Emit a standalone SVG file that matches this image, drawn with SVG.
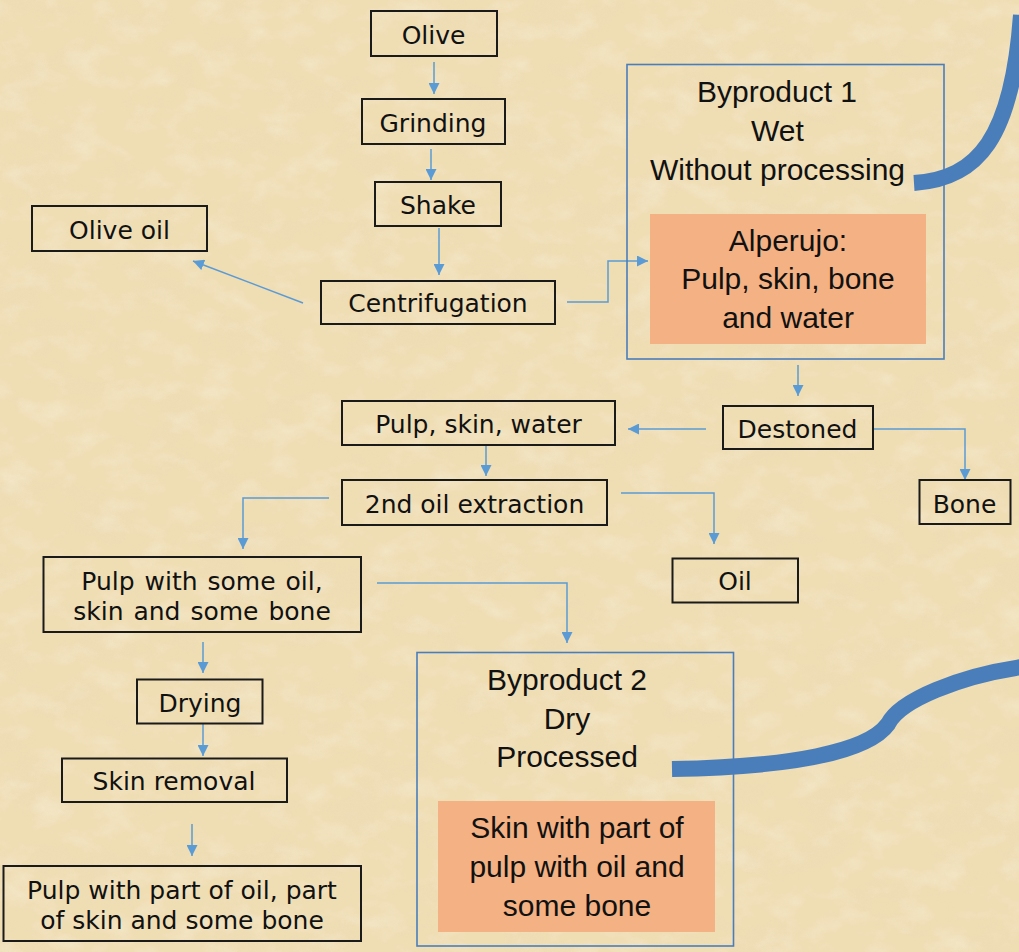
<svg xmlns="http://www.w3.org/2000/svg" width="1019" height="952" viewBox="0 0 1019 952">
<defs>
<style>
.box{fill:none;stroke:#1a1a1a;stroke-width:2}
.t{font-family:"DejaVu Sans",Verdana,sans-serif;font-size:25px;fill:#111;text-anchor:middle}
.bt{font-family:"Liberation Sans",Arial,sans-serif;font-size:30px;fill:#111;text-anchor:middle}
.frame{fill:none;stroke:#4A7EBB;stroke-width:1.6}
.orange{fill:#F4B183}
.conn{fill:none;stroke:#5B9BD5;stroke-width:1.5}
.thick{fill:none;stroke:#4A7EBB;stroke-width:16}
</style>
<marker id="ah" markerUnits="userSpaceOnUse" markerWidth="11" markerHeight="11" refX="10" refY="5" orient="auto" viewBox="0 0 10 10">
<path d="M0,0 L10,5 L0,10 z" fill="#5B9BD5"/>
</marker>
<filter id="dark" x="0" y="0" width="100%" height="100%">
<feTurbulence type="fractalNoise" baseFrequency="0.015 0.025" numOctaves="5" seed="7"/>
<feColorMatrix type="matrix" values="0 0 0 0 0.82  0 0 0 0 0.70  0 0 0 0 0.50  2.0 0 0 0 -1.0"/>
</filter>
<filter id="light" x="0" y="0" width="100%" height="100%">
<feTurbulence type="fractalNoise" baseFrequency="0.03 0.045" numOctaves="4" seed="21"/>
<feColorMatrix type="matrix" values="0 0 0 0 0.98  0 0 0 0 0.94  0 0 0 0 0.83  2.0 0 0 0 -0.95"/>
</filter>
</defs>
<rect width="1019" height="952" fill="#EFDDB4"/>
<rect width="1019" height="952" filter="url(#dark)" opacity="0.3"/>
<rect width="1019" height="952" filter="url(#light)" opacity="0.35"/>

<g id="connectors">
<path class="conn" marker-end="url(#ah)" d="M434,62 V94"/>
<path class="conn" marker-end="url(#ah)" d="M431,149 V180"/>
<path class="conn" marker-end="url(#ah)" d="M439,228 V275"/>
<path class="conn" marker-end="url(#ah)" d="M303,303 L193,261"/>
<path class="conn" marker-end="url(#ah)" d="M567,302 H608 V261 H648"/>
<path class="conn" marker-end="url(#ah)" d="M798,365 V396"/>
<path class="conn" marker-end="url(#ah)" d="M706,429 H628"/>
<path class="conn" marker-end="url(#ah)" d="M873,429 H965 V480"/>
<path class="conn" marker-end="url(#ah)" d="M486,445 V476"/>
<path class="conn" marker-end="url(#ah)" d="M621,493 H714 V544"/>
<path class="conn" marker-end="url(#ah)" d="M329,498 H243 V549"/>
<path class="conn" marker-end="url(#ah)" d="M377,583 H567 V643"/>
<path class="conn" marker-end="url(#ah)" d="M203,642 V673"/>
<path class="conn" marker-end="url(#ah)" d="M203,724 V756"/>
<path class="conn" marker-end="url(#ah)" d="M192,824 V856"/>
<path class="thick" d="M914,183 C 978,179 1012,138 1021,15"/>
<path class="thick" d="M672,769 C 790,767 868,752 888,724 C 900,700 960,676 1022,667"/>
</g>

<g id="olive"><rect class="box" x="371" y="11" width="126" height="45"/><text class="t" x="433.5" y="43.5">Olive</text></g>
<g id="grinding"><rect class="box" x="362" y="99" width="143" height="45"/><text class="t" x="433" y="131.5">Grinding</text></g>
<g id="shake"><rect class="box" x="375" y="182" width="126" height="44"/><text class="t" x="438" y="213.5">Shake</text></g>
<g id="centrifugation"><rect class="box" x="321" y="281" width="234" height="43"/><text class="t" x="438" y="311.5">Centrifugation</text></g>
<g id="olive-oil"><rect class="box" x="32" y="206" width="175" height="45"/><text class="t" x="119.5" y="238.5">Olive oil</text></g>

<g id="byproduct1">
<rect class="orange" x="650" y="214" width="276" height="130"/>
<rect class="frame" x="627" y="64.5" width="317" height="294.5"/>
<text class="bt" x="777" y="101.5">Byproduct 1</text>
<text class="bt" x="777.5" y="141">Wet</text>
<text class="bt" x="777.5" y="180">Without processing</text>
<text class="bt" x="788" y="250.5">Alperujo:</text>
<text class="bt" x="788" y="289">Pulp, skin, bone</text>
<text class="bt" x="788" y="327.5">and water</text>
</g>

<g id="destoned"><rect class="box" x="723" y="406" width="150" height="43"/><text class="t" x="797.5" y="437.5">Destoned</text></g>
<g id="pulp-skin-water"><rect class="box" x="342" y="401" width="273" height="44"/><text class="t" x="478.5" y="432.5">Pulp, skin, water</text></g>
<g id="bone"><rect class="box" x="919.5" y="480" width="91" height="44"/><text class="t" x="964.5" y="512.5">Bone</text></g>
<g id="second-extraction"><rect class="box" x="342" y="480" width="265" height="45"/><text class="t" x="474.5" y="512.5">2nd oil extraction</text></g>
<g id="oil"><rect class="box" x="672.5" y="558.5" width="125.5" height="44"/><text class="t" x="735" y="590">Oil</text></g>
<g id="pulp-some-oil"><rect class="box" x="43.5" y="557" width="317.5" height="75"/><text class="t" x="202" y="589.5" word-spacing="2">Pulp with some oil,</text><text class="t" x="202" y="620" word-spacing="2">skin and some bone</text></g>
<g id="drying"><rect class="box" x="137" y="679.5" width="125.5" height="44"/><text class="t" x="200" y="711.5">Drying</text></g>
<g id="skin-removal"><rect class="box" x="62" y="758.5" width="225" height="43.5"/><text class="t" x="174" y="789.5">Skin removal</text></g>
<g id="pulp-part-oil"><rect class="box" x="3.5" y="866" width="357.5" height="75"/><text class="t" x="182" y="898.5">Pulp with part of oil, part</text><text class="t" x="182" y="928.5">of skin and some bone</text></g>

<g id="byproduct2">
<rect class="orange" x="438" y="801" width="277" height="131"/>
<rect class="frame" x="417" y="652.5" width="316.5" height="293.5"/>
<text class="bt" x="567" y="690">Byproduct 2</text>
<text class="bt" x="567" y="728.5">Dry</text>
<text class="bt" x="567" y="767">Processed</text>
<text class="bt" x="577" y="838">Skin with part of</text>
<text class="bt" x="577" y="877">pulp with oil and</text>
<text class="bt" x="577" y="916">some bone</text>
</g>
</svg>
